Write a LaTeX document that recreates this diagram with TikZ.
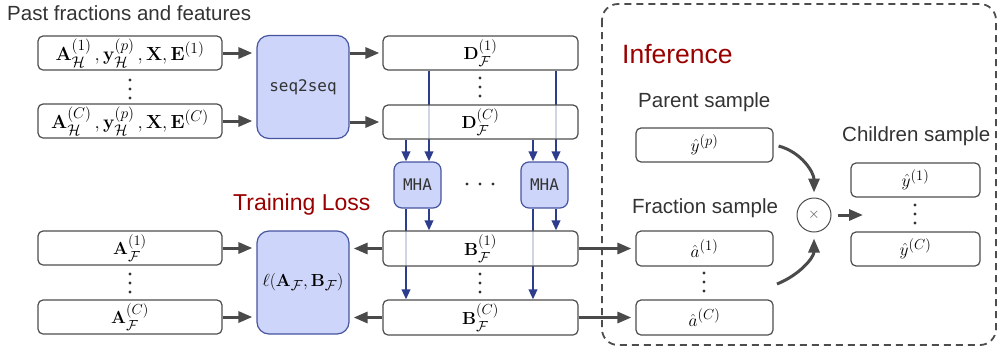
\RequirePackage{fix-cm}
\documentclass[tikz,border=0pt]{standalone}
\usepackage{amsmath}
\usepackage[no-math]{fontspec}
\setmainfont{Liberation Sans}
\setmonofont{DejaVu Sans Mono}
\usetikzlibrary{arrows.meta,calc}

% large script ratio for the formulas in the boxes
\DeclareMathSizes{17.5}{17.5}{14.5}{12}
\DeclareMathSizes{19}{19}{15.5}{12.5}

\definecolor{boxgray}{RGB}{77,77,77}
\definecolor{arrowgray}{RGB}{74,74,74}
\definecolor{textgray}{RGB}{51,51,51}
\definecolor{darkred}{RGB}{153,0,0}
\definecolor{bluefill}{RGB}{205,213,250}
\definecolor{blueborder}{RGB}{70,85,160}
\definecolor{bluearrow}{RGB}{45,60,140}

\pgfdeclarelayer{bg}
\pgfsetlayers{bg,main}

\newcommand\mathfs{\fontsize{17.5}{21}\selectfont}
\newcommand\bigmathfs{\fontsize{19}{22}\selectfont}
\newcommand\dotcol[2]{\fill[textgray] (#1,#2-9) circle[radius=1.7pt] (#1,#2) circle[radius=1.7pt] (#1,#2+9) circle[radius=1.7pt];}

\begin{document}
\begin{tikzpicture}[x=1pt,y=-1pt,
  plainbox/.style={draw=boxgray, line width=1.2pt, rounded corners=5pt, fill=white,
    fill opacity=0.78, text opacity=1, font=\mathfs, inner sep=0pt},
  bluebox/.style={draw=blueborder, line width=1.2pt, fill=bluefill, inner sep=0pt,
    text=textgray},
  lbl/.style={font=\fontsize{20.5}{24}\selectfont, text=textgray, inner sep=0pt},
  redlbl/.style={text=darkred, inner sep=0pt},
  garrow/.style={draw=arrowgray, line width=3pt, -{Triangle[length=14pt,width=11pt]}},
  barrow/.style={draw=bluearrow, line width=2pt, -{Triangle[length=10pt,width=8.5pt]}},
]
\useasboundingbox (0,0) rectangle (998,349);

% ---- inputs and encoder ----
\node[lbl, anchor=base west] (past) at (7,20) {Past fractions and features};
\node[plainbox, minimum width=184pt, minimum height=34pt, font=\bigmathfs] (l1) at (130,53)
  {$\mathbf{A}^{(1)}_{\mathcal{H}}\,, \mathbf{y}^{(p)}_{\mathcal{H}}\,, \mathbf{X}, \mathbf{E}^{(1)}$};
\node[plainbox, minimum width=184pt, minimum height=34pt, font=\bigmathfs] (lC) at (130,121)
  {$\mathbf{A}^{(C)}_{\mathcal{H}}\,,\mathbf{y}^{(p)}_{\mathcal{H}}\,, \mathbf{X}, \mathbf{E}^{(C)}$};
\dotcol{130}{89}

\node[bluebox, rounded corners=12pt, minimum width=92pt, minimum height=103pt,
  font=\ttfamily\fontsize{16}{19}\selectfont] (s2s) at (303,87) {seq2seq};

\node[plainbox, minimum width=195pt, minimum height=34pt] (d1) at (480.5,53)
  {$\mathbf{D}^{(1)}_{\mathcal{F}}$};
\node[plainbox, minimum width=195pt, minimum height=34pt] (dC) at (480.5,122)
  {$\mathbf{D}^{(C)}_{\mathcal{F}}$};
\dotcol{480}{87}

% ---- attention heads ----
\node[bluebox, rounded corners=8pt, minimum width=47pt, minimum height=46pt,
  font=\ttfamily\fontsize{16}{19}\selectfont] (mha1) at (417.5,185) {MHA};
\node[bluebox, rounded corners=8pt, minimum width=47pt, minimum height=46pt,
  font=\ttfamily\fontsize{16}{19}\selectfont] (mha2) at (544.5,185) {MHA};
\fill[textgray] (467,184) circle[radius=1.7pt] (480,184) circle[radius=1.7pt] (493,184) circle[radius=1.7pt];

\node[plainbox, minimum width=195pt, minimum height=35pt] (b1) at (480.5,248.5)
  {$\mathbf{B}^{(1)}_{\mathcal{F}}$};
\node[plainbox, minimum width=195pt, minimum height=35pt] (bC) at (480.5,317.5)
  {$\mathbf{B}^{(C)}_{\mathcal{F}}$};
\dotcol{480}{283}

% ---- training loss ----
\node[redlbl, font=\fontsize{23}{27}\selectfont, anchor=base west] (trainlbl) at (233,210) {Training Loss};
\node[plainbox, minimum width=184pt, minimum height=34pt] (af1) at (130,248)
  {$\mathbf{A}^{(1)}_{\mathcal{F}}$};
\node[plainbox, minimum width=184pt, minimum height=34pt] (afC) at (130,317)
  {$\mathbf{A}^{(C)}_{\mathcal{F}}$};
\dotcol{130}{283}
\node[bluebox, rounded corners=12pt, minimum width=92pt, minimum height=103pt,
  font=\mathfs, text=black] (loss) at (303,282.5)
  {$\ell(\mathbf{A}_{\mathcal{F}}, \mathbf{B}_{\mathcal{F}})$};

% ---- inference ----
\node[redlbl, font=\fontsize{26.5}{30}\selectfont, anchor=base west] (inflbl) at (622,63) {Inference};
\node[lbl, anchor=base west] (parentlbl) at (638,107) {Parent sample};
\node[plainbox, minimum width=137pt, minimum height=34pt] (yp) at (704.5,145) {$\hat{y}^{(p)}$};
\node[lbl, anchor=base west] (fraclbl) at (632,213) {Fraction sample};
\node[plainbox, minimum width=137pt, minimum height=35pt] (a1) at (704.5,248.5) {$\hat{a}^{(1)}$};
\node[plainbox, minimum width=137pt, minimum height=35pt] (aC) at (704.5,317.5) {$\hat{a}^{(C)}$};
\dotcol{704}{282}
\node[lbl, anchor=base west] (childlbl) at (842,141.5) {Children sample};
\node[plainbox, minimum width=129pt, minimum height=34pt] (c1) at (915.5,180) {$\hat{y}^{(1)}$};
\node[plainbox, minimum width=129pt, minimum height=34pt] (cC) at (915.5,249) {$\hat{y}^{(C)}$};
\dotcol{915}{214}
\node[circle, draw=boxgray, line width=1pt, fill=white, minimum size=34pt, inner sep=0pt,
  text=boxgray, font=\fontsize{15}{18}\selectfont] (times) at (814,215) {$\times$};

% ---- grey connectors ----
\draw[garrow, shorten >=4pt] (l1.east) -- (s2s.west |- l1.east);
\draw[garrow, shorten >=4pt] (lC.east) -- (s2s.west |- lC.east);
\draw[garrow, shorten >=3pt] (s2s.east |- d1.west) -- (d1.west);
\draw[garrow, shorten >=3pt] (s2s.east |- dC.west) -- (dC.west);
\draw[garrow, shorten >=4pt] (af1.east) -- (loss.west |- af1.east);
\draw[garrow, shorten >=4pt] (afC.east) -- (loss.west |- afC.east);
\draw[garrow, shorten >=4pt] (b1.west) -- (loss.east |- b1.west);
\draw[garrow, shorten >=4pt] (bC.west) -- (loss.east |- bC.west);
\draw[garrow, shorten >=4pt] (b1.east) -- (a1.west);
\draw[garrow, shorten >=4pt] (bC.east) -- (aC.west);

\coordinate (ypout) at ($(yp.east)+(5,1)$);
\coordinate (aout) at (777,284);
\coordinate (cin) at (863,215);
\draw[garrow, shorten >=5pt] (ypout) to[out=-15,in=90] (times.north);
\draw[garrow, shorten >=6pt] (aout) to[out=22,in=-90] (times.south);
\draw[garrow, shorten <=6pt] (times.east) -- (cin);

% ---- blue connectors and frame behind the boxes ----
\coordinate (m1L) at ($(mha1.center)+(-11.5,0)$);
\coordinate (m1R) at ($(mha1.center)+(11.5,0)$);
\coordinate (m2L) at ($(mha2.center)+(-11.5,0)$);
\coordinate (m2R) at ($(mha2.center)+(11.5,0)$);
\begin{pgfonlayer}{bg}
  \draw[dashed, draw=boxgray, line width=1.8pt, dash pattern=on 7pt off 5pt,
    rounded corners=16pt] (602,4) rectangle (996,345);
  \draw[barrow] (d1.south -| m1R) -- (mha1.north -| m1R);
  \draw[barrow] (dC.south -| m1L) -- (mha1.north -| m1L);
  \draw[barrow] (d1.south -| m2R) -- (mha2.north -| m2R);
  \draw[barrow] (dC.south -| m2L) -- (mha2.north -| m2L);
  \draw[barrow] (mha1.south -| m1R) -- (b1.north -| m1R);
  \draw[barrow] (mha1.south -| m1L) -- (bC.north -| m1L);
  \draw[barrow] (mha2.south -| m2R) -- (b1.north -| m2R);
  \draw[barrow] (mha2.south -| m2L) -- (bC.north -| m2L);
\end{pgfonlayer}
\end{tikzpicture}
\end{document}
